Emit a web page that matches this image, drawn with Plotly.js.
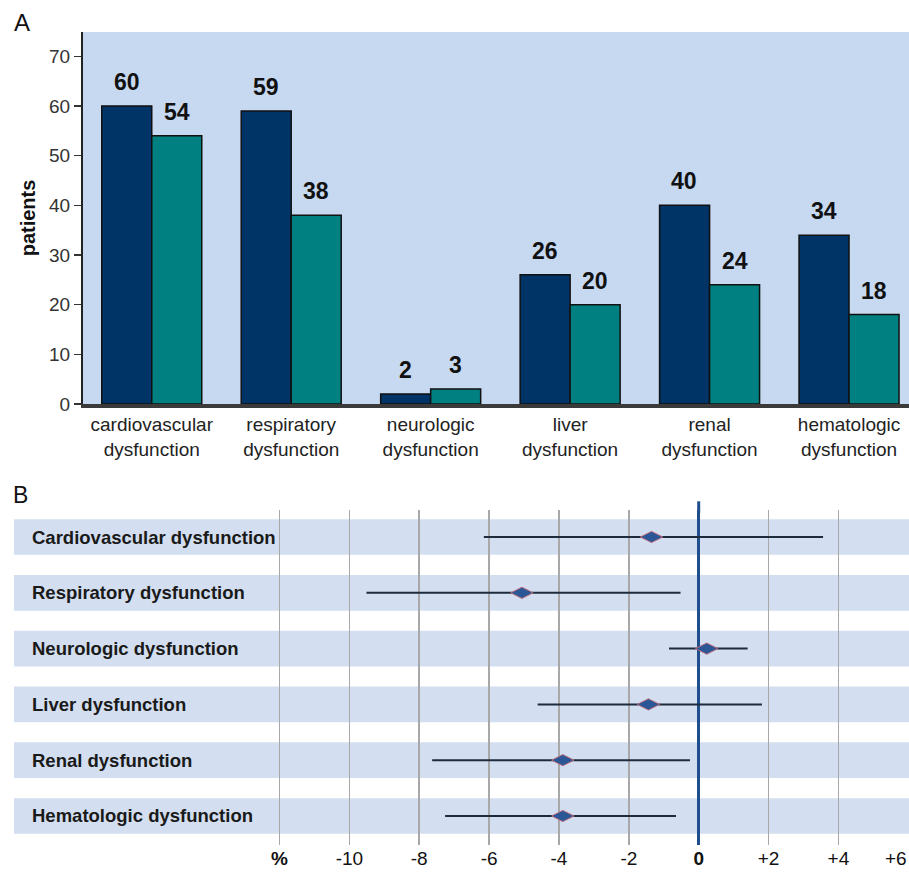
<!DOCTYPE html>
<html>
<head>
<meta charset="utf-8">
<script src="https://cdn.plot.ly/plotly-3.0.1.min.js"></script>
<style>
html,body{margin:0;padding:0;background:#fff;}
#chart{width:909px;height:872px;}
</style>
</head>
<body>
<div id="chart"></div>
<script>
// ---------- Panel A data ----------
const categories = ['cardiovascular dysfunction', 'respiratory dysfunction', 'neurologic dysfunction',
                    'liver dysfunction', 'renal dysfunction', 'hematologic dysfunction'];
const seriesDark = [60, 59, 2, 26, 40, 34];
const seriesTeal = [54, 38, 3, 20, 24, 18];
const yTicksA = [0, 10, 20, 30, 40, 50, 60, 70];

// ---------- Panel B data ----------
const rows = ['Cardiovascular dysfunction', 'Respiratory dysfunction', 'Neurologic dysfunction',
              'Liver dysfunction', 'Renal dysfunction', 'Hematologic dysfunction'];
const estimate = [-1.35, -5.06, 0.23, -1.44, -3.89, -3.89];
const ciLow = [-6.15, -9.51, -0.85, -4.61, -7.63, -7.26];
const ciHigh = [3.56, -0.52, 1.40, 1.81, -0.25, -0.65];
const xTickVals = [-12, -10, -8, -6, -4, -2, 0, 2, 4, 6];
const xTickText = ['<b>%</b>', '-10', '-8', '-6', '-4', '-2', '<b>0</b>', '+2', '+4', '+6'];

const FONT = 'Liberation Sans, Arial, sans-serif';
const catIdx = categories.map((c, i) => i);
const rowIdx = rows.map((r, i) => i);
const lastTick = xTickVals.length - 1;

const traces = [
  {
    type: 'bar', x: catIdx, y: seriesDark, xaxis: 'x', yaxis: 'y',
    marker: {color: '#003366', line: {color: '#111111', width: 1.5}},
    hoverinfo: 'y', showlegend: false
  },
  {
    type: 'bar', x: catIdx, y: seriesTeal, xaxis: 'x', yaxis: 'y',
    marker: {color: '#008080', line: {color: '#111111', width: 1.5}},
    hoverinfo: 'y', showlegend: false
  },
  {
    type: 'scatter', mode: 'markers', x: estimate, y: rowIdx, xaxis: 'x2', yaxis: 'y2',
    marker: {symbol: 'diamond-wide', size: 16, color: '#2b5797', line: {color: '#b86a7a', width: 1}},
    error_x: {type: 'data', symmetric: false,
              array: estimate.map((e, i) => ciHigh[i] - e),
              arrayminus: estimate.map((e, i) => e - ciLow[i]),
              color: '#1d2b3d', thickness: 2, width: 0},
    showlegend: false
  }
];

const annotations = [];
// Panel letters
annotations.push({text: 'A', xref: 'paper', yref: 'paper', x: 12 / 909, y: 1 - 23 / 872,
  xanchor: 'left', yanchor: 'middle', showarrow: false, font: {family: FONT, size: 24, color: '#111'}});
annotations.push({text: 'B', xref: 'paper', yref: 'paper', x: 11 / 909, y: 1 - 495 / 872,
  xanchor: 'left', yanchor: 'middle', showarrow: false, font: {family: FONT, size: 23, color: '#111'}});
// Bar value labels
seriesDark.forEach((v, i) => annotations.push({text: '<b>' + v + '</b>', x: i - 0.18, y: v, xref: 'x', yref: 'y',
  yanchor: 'middle', yshift: 24, showarrow: false, font: {family: FONT, size: 23, color: '#111'}}));
seriesTeal.forEach((v, i) => annotations.push({text: '<b>' + v + '</b>', x: i + 0.18, y: v, xref: 'x', yref: 'y',
  yanchor: 'middle', yshift: 24, showarrow: false, font: {family: FONT, size: 23, color: '#111'}}));
// Row labels panel B
rows.forEach((r, i) => annotations.push({text: '<b>' + r + '</b>', xref: 'paper', yref: 'y2', x: 30 / 909, y: i,
  xanchor: 'left', yanchor: 'middle', showarrow: false, font: {family: FONT, size: 18.5, color: '#1a1a1a'}}));
// Last x tick label of panel B (sits at the right edge; kept inside the frame)
annotations.push({text: xTickText[lastTick], xref: 'x2', yref: 'y2 domain', x: xTickVals[lastTick], y: 0,
  xanchor: 'right', yanchor: 'middle', yshift: -13, borderpad: 0, showarrow: false,
  font: {family: FONT, size: 19, color: '#111'}});

const shapes = [];
// Panel A plot background
shapes.push({type: 'rect', xref: 'x domain', yref: 'y domain', x0: 0, x1: 1, y0: 0, y1: 1,
  fillcolor: '#c6d9f1', line: {width: 0}, layer: 'below'});
// Panel B row bands
rowIdx.forEach(i => shapes.push({type: 'rect', xref: 'x2 domain', yref: 'y2', x0: 0, x1: 1,
  y0: i - 0.32, y1: i + 0.32, fillcolor: '#d3dff0', line: {width: 0}, layer: 'below'}));
// Short extension of the zero line above the plot area
shapes.push({type: 'line', xref: 'x2', yref: 'y2 domain', x0: 0, x1: 0, y0: 0.99, y1: 1.026,
  line: {color: '#1f4e8c', width: 3}, layer: 'above'});

const layout = {
  width: 909, height: 872,
  margin: {l: 0, r: 0, t: 0, b: 0},
  paper_bgcolor: '#ffffff',
  plot_bgcolor: 'rgba(0,0,0,0)',
  font: {family: FONT, color: '#222'},
  barmode: 'group', bargap: 0.283, bargroupgap: 0,
  xaxis: {
    domain: [83 / 909, 1], anchor: 'y', range: [-0.493, 5.43],
    tickvals: catIdx, ticktext: categories.map(c => c.replace(' ', '<br>')),
    tickfont: {family: FONT, size: 19, color: '#222'}, ticks: '',
    showline: true, linecolor: '#3a3a3a', linewidth: 4, showgrid: false, zeroline: false
  },
  yaxis: {
    domain: [1 - 404 / 872, 1 - 32 / 872], anchor: 'x', range: [0, 74.9],
    tickvals: yTicksA, tickfont: {family: FONT, size: 19, color: '#333'},
    ticks: 'outside', ticklen: 7, tickwidth: 1.5, tickcolor: '#333',
    showline: true, linecolor: '#222', linewidth: 2, showgrid: false, zeroline: false,
    title: {text: '<b>patients</b>', font: {family: FONT, size: 20, color: '#111'}, standoff: 8}
  },
  xaxis2: {
    domain: [14 / 909, 1], anchor: 'y2', range: [-19.6, 6.02],
    tickvals: xTickVals, ticktext: xTickText.map((t, i) => i === lastTick ? '' : t),
    tickfont: {family: FONT, size: 19, color: '#111'}, ticks: '', ticklen: 0,
    showgrid: true, gridcolor: '#a8a8a8', gridwidth: 1.5,
    zeroline: true, zerolinecolor: '#1f4e8c', zerolinewidth: 3, showline: false
  },
  yaxis2: {
    domain: [1 - 845 / 872, 1 - 510 / 872], anchor: 'x2', range: [5.52, -0.484],
    showticklabels: false, showgrid: false, zeroline: false, showline: false, ticks: ''
  },
  annotations: annotations,
  shapes: shapes
};

Plotly.newPlot('chart', traces, layout, {displayModeBar: false, staticPlot: true});
</script>
</body>
</html>
